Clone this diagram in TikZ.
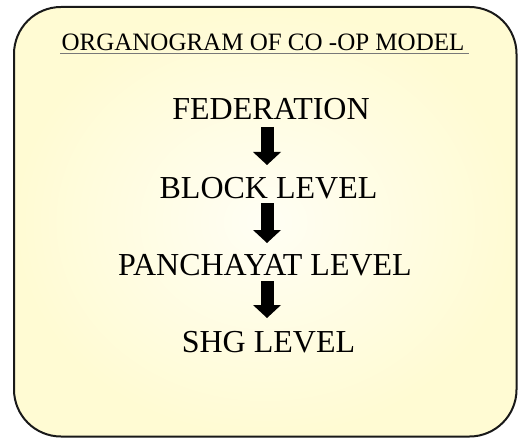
\documentclass[tikz,border=0pt]{standalone}
\usepackage{fontspec}
\setmainfont{Liberation Serif}
\newfontfamily\labelfont{Liberation Serif}
\usetikzlibrary{arrows.meta,calc}

\definecolor{paneledge}{RGB}{255,251,211}
\definecolor{panelmid}{RGB}{255,254,244}
\definecolor{ruleline}{RGB}{120,120,120}

\tikzset{
  level/.style={font=\labelfont\fontsize{32}{36}\selectfont, inner sep=0pt, anchor=base},
  heading/.style={font=\labelfont\fontsize{25}{28}\selectfont, inner sep=0pt, anchor=base},
  blockarrow/.style={line width=13pt, draw=black,
    -{Triangle[width=28pt,length=13pt,line width=0pt]}},
}

\begin{document}
\begin{tikzpicture}[x=1pt,y=-1pt]
  \useasboundingbox (0,0) rectangle (518,438);

  % rounded panel with a soft radial fill
  \draw[rounded corners=47pt, line width=2pt, draw=black!90,
        inner color=panelmid, outer color=paneledge]
    (14,7) rectangle (516.5,436.5);

  % heading with its underline
  \node[heading] (title) at (263,50.5) {ORGANOGRAM OF CO -OP MODEL};
  \draw[ruleline, line width=0.8pt]
    ($(title.base west)+(-1,2.5)$) -- ($(title.base east)+(4,2.5)$);

  % hierarchy levels
  \node[level] (fed)   at (271,120) {FEDERATION};
  \node[level] (block) at (268.5,198) {BLOCK LEVEL};
  \node[level] (pan)   at (265,275) {PANCHAYAT LEVEL};
  \node[level] (shg)   at (268.5,352) {SHG LEVEL};

  % common axis of the arrows
  \coordinate (axis) at (267,0);

  \draw[blockarrow] ($(fed.base -| axis)+(0,7)$)   -- ($(block.base -| axis)+(0,-33)$);
  \draw[blockarrow] ($(block.base -| axis)+(0,5)$) -- ($(pan.base -| axis)+(0,-32)$);
  \draw[blockarrow] ($(pan.base -| axis)+(0,6)$)   -- ($(shg.base -| axis)+(0,-34)$);
\end{tikzpicture}
\end{document}
